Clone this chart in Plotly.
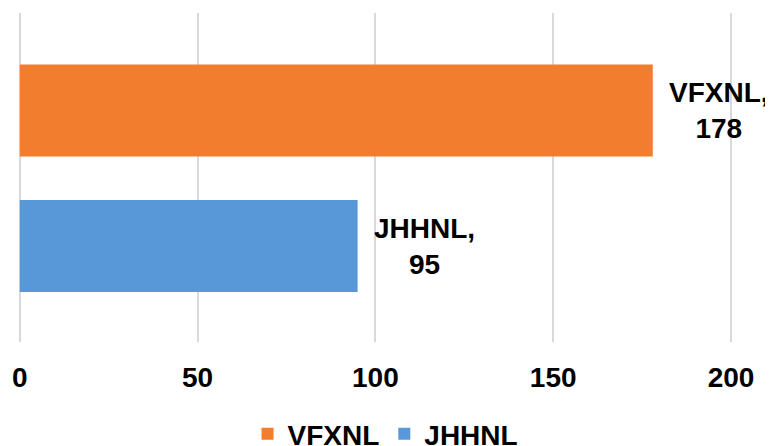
import plotly.graph_objects as go

categories = ["VFXNL", "JHHNL"]
values = [178, 95]
colors = ["#F27D2E", "#5898D8"]
x_ticks = [0, 50, 100, 150, 200]

FONT = "Arial, 'Liberation Sans', sans-serif"

fig = go.Figure()
for cat, val, col in zip(categories, values, colors):
    fig.add_trace(go.Bar(
        y=[cat], x=[val], name=cat, orientation="h",
        marker=dict(color=col, line=dict(width=0)),
        width=0.68, showlegend=True,
    ))
    fig.add_annotation(
        x=val, y=cat, xref="x", yref="y",
        text=f"{cat},<br>{val}", showarrow=False,
        xanchor="left", yanchor="middle", xshift=14, align="center",
        font=dict(family=FONT, size=28, color="#000000", weight="bold"),
    )

# page body has an 8px margin, so the figure is drawn 8px smaller and offset
fig.update_layout(
    width=765, height=438,
    margin=dict(l=10.2, r=0, t=5, b=104, autoexpand=False),
    paper_bgcolor="white", plot_bgcolor="white",
    barmode="overlay",
    font=dict(family=FONT, size=28, color="#000000"),
    xaxis=dict(
        range=[-0.5, 211.8], tickvals=x_ticks, ticktext=[str(t) for t in x_ticks],
        showgrid=True, gridcolor="#D9D9D9", gridwidth=1.5,
        zeroline=False, showline=False, automargin=False,
        tickfont=dict(family=FONT, size=28, color="#000000", weight="bold"),
        ticklabelstandoff=16,
    ),
    yaxis=dict(
        type="category", categoryorder="array", categoryarray=["JHHNL", "VFXNL"],
        range=[-0.7085, 1.7196], showticklabels=False, showgrid=False,
        zeroline=False, showline=False, automargin=False,
    ),
    legend=dict(
        orientation="h", xref="container", yref="container",
        x=0.4935, xanchor="center", y=0.027, yanchor="middle",
        font=dict(family=FONT, size=28, color="#000000", weight="bold"),
        traceorder="normal", itemwidth=30,
    ),
)

fig.write_html("out.html")
